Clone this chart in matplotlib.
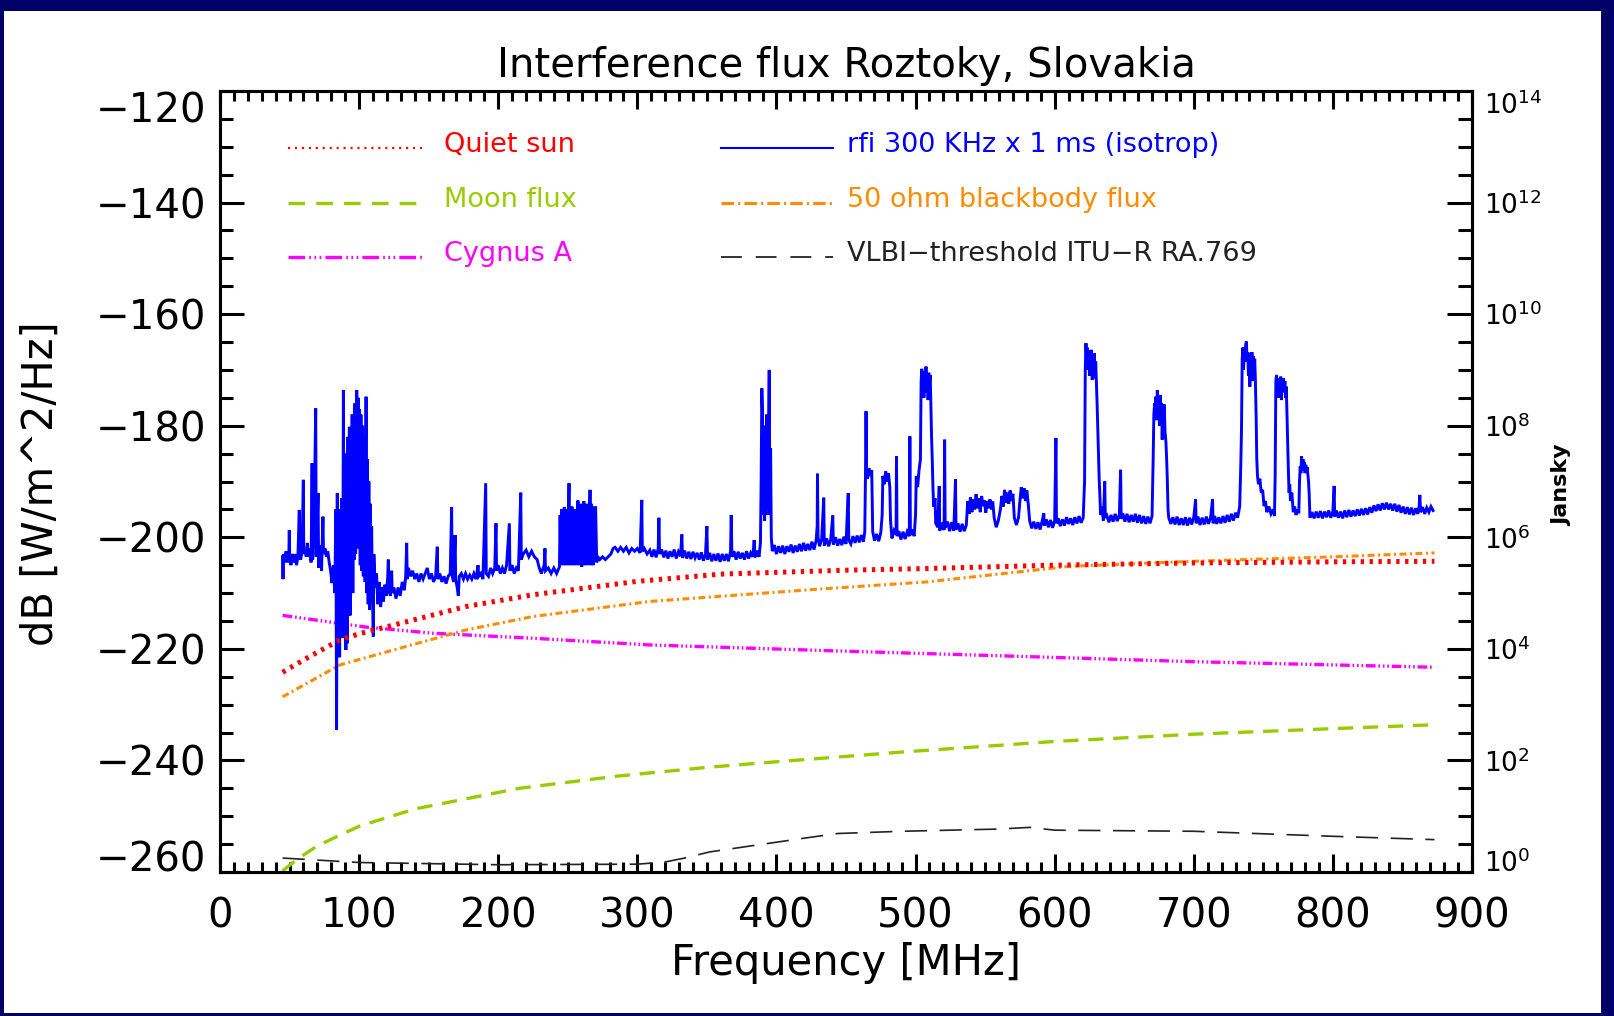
import numpy as np
import matplotlib.pyplot as plt
from matplotlib.ticker import FixedLocator, MultipleLocator
from matplotlib.patches import Rectangle

# ---- data (frequency in MHz, flux in dB W/m^2/Hz) ----
sun_f = [45, 60, 86, 100, 130, 177, 225, 300, 360, 450, 508, 600, 700, 800, 873]
sun_db = [-224.2, -222.0, -218.4, -217.3, -215.4, -212.4, -210.3, -207.9, -206.6,
          -205.9, -205.6, -205.0, -204.6, -204.4, -204.3]

moon_f = [45, 55, 70, 100, 140, 215, 286, 352, 397, 490, 600, 700, 800, 873]
moon_db = [-259.8, -257.8, -255.3, -251.8, -248.7, -245.0, -242.8, -241.2, -240.3,
           -238.5, -236.6, -235.3, -234.3, -233.6]

cyg_f = [45, 105, 153, 225, 309, 434, 582, 700, 873]
cyg_db = [-214.0, -216.1, -217.2, -218.1, -219.3, -220.3, -221.4, -222.3, -223.3]

bb_f = [45, 86, 129, 177, 225, 309, 430, 508, 611, 700, 800, 873]
bb_db = [-228.6, -222.9, -219.9, -216.6, -214.2, -211.5, -209.3, -208.0, -205.2,
         -204.3, -203.5, -202.8]

vlbi_f = [45, 100, 200, 300, 320, 334, 352, 385, 421, 444, 490, 560, 582, 600, 700, 800, 873]
vlbi_db = [-257.5, -258.3, -258.7, -258.6, -258.2, -257.5, -256.4, -255.2, -253.9, -253.1,
           -252.7, -252.3, -252.0, -252.5, -252.7, -253.6, -254.2]

# measured rfi spectrum (freq, dB)
rfi = [
    (45.0, -203.5), (45.3, -207.5), (45.6, -203.0), (46.5, -204.5), (47.5, -202.5), (48.5, -204.5),
    (49.5, -203.0), (49.8, -198.7), (50.1, -203.5), (51, -205), (52, -203), (53, -204.5), (54, -203),
    (55, -205), (56, -203.5), (57.0, -195.1), (57.3, -203), (58, -204), (59, -202.5), (59.9, -189.7),
    (60.2, -203), (61, -201.8), (62, -203.5), (62.8, -201), (63.5, -203.5), (64.5, -202),
    (65.5, -204.5), (66.2, -186.7), (66.6, -204), (67.5, -199.5), (68.8, -176.9), (69.2, -203.5),
    (70.5, -192.1), (70.9, -205.5), (72, -201.5), (73, -206), (74, -196.3), (74.4, -203),
    (75.5, -202), (76.5, -203.5), (77.5, -202.5), (78.5, -204.5), (79.5, -206), (80.5, -208.2),
    (81.5, -205), (82.5, -210), (83.3, -195), (83.8, -234.5), (84.3, -192.1), (85, -220),
    (85.5, -200), (86, -221.5), (86.5, -195), (87, -216), (87.5, -193), (88.2, -218), (88.7, -173.6),
    (89.2, -215), (89.8, -190), (90.5, -220.2), (91, -185), (91.5, -219), (92, -182), (92.5, -214),
    (93, -180.2), (93.5, -214), (94, -186), (94.5, -208), (95, -178), (95.5, -210), (96, -181),
    (96.5, -204), (97, -176), (97.5, -203), (98.3, -173.6), (98.8, -200), (99.3, -175), (99.8, -202),
    (100.3, -177), (100.8, -205), (101.3, -178), (102, -206), (102.5, -180), (103, -207),
    (103.8, -182), (104.3, -208), (105, -174.8), (105.5, -210), (106, -186), (106.5, -212),
    (107, -190), (107.5, -213), (108, -194), (108.5, -210), (109, -198), (109.6, -211),
    (110.2, -217.8), (110.6, -203), (111.5, -209), (112.5, -206.5), (113.5, -212), (114.5, -208),
    (115.5, -212.5), (116.5, -209), (117.5, -211.5), (118.5, -208.5), (119.5, -210.5),
    (120.5, -207.5), (121, -204.0), (121.4, -209.5), (122.5, -210.5), (123.4, -206), (123.8, -210),
    (125, -209), (126.5, -211), (128, -209), (129.5, -210.5), (131, -208), (132.5, -209.5),
    (133.5, -207), (134.2, -201), (134.6, -207.5), (135.5, -205.5), (137, -207), (138.5, -206),
    (140, -207.5), (141.5, -206.5), (143, -208), (144.5, -206.5), (146, -207.5), (147.5, -206.5),
    (149, -205.5), (150.5, -207.5), (152, -206.5), (153.5, -208), (155, -207), (156.2, -201.7),
    (156.6, -207.5), (158, -206.5), (159.5, -208), (161, -207), (162.5, -208.3), (164, -207),
    (165.5, -206.5), (166.5, -194.6), (166.9, -207), (168, -208), (169, -199.6), (169.4, -207.5),
    (170.5, -209), (171.3, -210.5), (172, -207), (173.5, -206.5), (175, -207.5), (176.5, -206.5),
    (178, -207.5), (179.5, -206.8), (181, -207.5), (182.5, -206.5), (184, -207.5), (185.5, -205),
    (186, -207), (187.5, -206.5), (189, -207.5), (191, -190.3), (191.4, -206.5), (193, -207),
    (194.5, -205.5), (196, -206.5), (197.5, -205.5), (198.4, -197.5), (198.8, -206), (200, -205),
    (201.5, -206.5), (203, -205.5), (204.5, -206.5), (206, -205), (208, -197.5), (208.4, -206),
    (210, -205), (211.5, -206.5), (213, -205.5), (214.5, -206), (216.2, -192), (216.6, -204),
    (218, -203), (220, -202.3), (222, -203.5), (224, -202.5), (226, -203.5), (228, -204),
    (229.5, -205.5), (231, -206.5), (233, -205), (233.6, -202), (234, -206), (236, -205.5),
    (238, -206.5), (240, -205.5), (242, -206.5), (244, -205.3), (244.5, -196), (245, -205),
    (245.5, -195), (246, -204.5), (246.5, -196), (247, -205), (247.5, -194.6), (248, -204),
    (248.5, -195), (249, -205), (249.5, -196), (250, -204), (250.9, -190.3), (251.3, -205),
    (252, -195), (252.5, -204.5), (253, -194.5), (253.5, -205), (254, -196), (254.5, -203.5),
    (255, -195), (255.5, -205), (256, -195.5), (256.5, -204), (257.3, -193.4), (257.8, -205),
    (258.5, -194.5), (259, -204.5), (259.5, -194), (260, -205.3), (260.5, -195), (261, -204),
    (261.5, -193.5), (262, -205), (262.5, -194), (263, -204), (263.5, -195), (264, -205),
    (264.5, -194), (265, -204.5), (266, -191.5), (266.5, -205), (267, -194), (267.5, -204),
    (268, -194.5), (268.5, -205), (269, -195), (269.5, -204), (270, -194.5), (270.8, -204.5),
    (271.5, -203.5), (273, -204), (275, -203.5), (277, -204), (279, -203.5), (281, -203),
    (282.6, -202), (284, -201.8), (286, -202.5), (288, -201.8), (290, -202.5), (292, -201.8),
    (294, -202.8), (296, -202), (298, -202.5), (300, -202), (302, -202.8), (303.2, -193.3),
    (303.6, -202.5), (305, -202), (307, -203), (309, -202.3), (310.5, -203.5), (312, -202.2),
    (313.5, -203.6), (315, -202.0), (315.5, -196.5), (316, -203), (317.5, -202.2), (319, -203.6),
    (320.5, -202.4), (322, -203.8), (323.5, -202.5), (325, -203.5), (326.5, -202.2), (328, -203.8),
    (329.5, -202.6), (331, -203.4), (332, -199.5), (332.5, -203.7), (334, -202.4), (335.5, -203.8),
    (337, -202.6), (338.5, -203.9), (340, -202.6), (341.5, -203.7), (343, -202.8), (344.5, -204),
    (346, -202.7), (347.5, -204.2), (349, -203), (350, -198), (350.5, -204), (352, -202.8),
    (353.5, -204.3), (355, -203), (356.5, -204.2), (358, -202.9), (359.5, -204.4), (361, -203),
    (362.5, -204.2), (364, -203), (365.5, -204.3), (367, -202.5), (367.5, -196), (368, -203.5),
    (369.5, -202.5), (371, -204), (372.5, -202.6), (374, -203.8), (375.5, -202.8), (377, -204),
    (378.5, -202.5), (380, -203.8), (381.5, -202.8), (383, -203.5), (384, -200.5), (384.5, -203.6),
    (386, -202.4), (387.5, -203.5), (388.5, -201), (389, -190), (389.5, -173.3), (390, -178),
    (390.5, -196), (391, -180), (391.5, -197), (392, -184), (392.5, -196), (393, -178),
    (393.5, -195), (394.3, -181), (394.8, -170), (395.3, -196), (395.8, -184), (396.3, -200),
    (397, -202.5), (398.5, -201.4), (400, -203), (401.5, -201.6), (403, -202.8), (404.5, -201.5),
    (406, -203), (407.5, -201.6), (409, -202.6), (410.5, -201.3), (412, -202.8), (413.5, -201.5),
    (415, -202.6), (416.5, -201.2), (418, -202.5), (419.5, -201.0), (421, -202.4), (422.5, -201.2),
    (424, -202.3), (425.5, -200.8), (427, -202.2), (428.5, -200.6), (429.3, -198), (429.5, -188.6),
    (429.9, -200), (431, -201.6), (432.5, -200.4), (434, -192.9), (434.4, -201.5), (436, -200.2),
    (437.5, -201.6), (439, -200.4), (440.5, -196.1), (440.9, -201.3), (442.5, -200), (444, -201.5),
    (445.5, -200.3), (447, -201.4), (448.5, -199.9), (450, -201.2), (451.6, -192.1), (452, -200.5),
    (453.5, -201.2), (455, -199.8), (456.5, -201), (458, -199.7), (459.5, -200.9), (461, -199.6),
    (462.5, -200.8), (463.5, -199), (464, -189), (464.4, -177.4), (464.8, -188), (465.5, -189.5),
    (466.5, -187.6), (467.5, -189), (468.5, -188), (469.2, -199), (470.5, -200.6), (472, -199.4),
    (473.5, -200.7), (475, -199.2), (476, -196), (476.5, -189), (477.5, -190.5), (478.5, -188.2),
    (479.5, -190), (480.5, -188.5), (481.5, -191), (482, -197), (483, -200.2), (484.5, -198.8),
    (486, -199.5), (486.3, -185.5), (486.7, -199.8), (488, -198.9), (489.5, -200.4), (491, -199),
    (492.5, -200.3), (494, -199), (495.5, -199.8), (495.9, -181.9), (496.3, -199.6), (497.5, -198.6),
    (499, -199.8), (500, -196), (500.5, -189), (501.5, -191), (502.5, -188), (503.5, -186),
    (504, -172), (504.5, -169.8), (505, -173.5), (505.5, -170.5), (506, -175), (506.5, -170.2),
    (507, -174), (507.5, -169.4), (508, -173), (508.5, -171), (509, -175.4), (509.5, -170.5),
    (510, -172.5), (510.5, -170.9), (511, -176), (511.5, -182), (512, -186), (512.5, -191),
    (513, -194.5), (514, -193), (514.5, -197.5), (516, -198.2), (517, -190.8), (517.4, -198.8),
    (519, -197.4), (520.5, -198.7), (520.9, -182.5), (521.3, -198.3), (523, -197.2), (524.5, -198.9),
    (526, -197.3), (527.5, -198.8), (528.7, -189.6), (529.1, -198.6), (530.5, -197.5), (532, -199),
    (533.5, -197.6), (535, -198.9), (536.5, -197.8), (537.5, -193.5), (538.5, -195.8), (539.5, -192.8),
    (540.5, -195.5), (541.5, -193.2), (542.5, -195), (543.5, -192.3), (544.5, -194.8), (545.5, -193),
    (546.5, -195.5), (547.5, -192.6), (548.5, -194.4), (549.5, -193.4), (550.5, -195.6), (551.5, -193.5),
    (552.5, -194.8), (553.5, -193.2), (554.5, -195), (555.5, -193.6), (556.5, -196.5), (558, -198.2),
    (559.5, -197), (561, -195), (562, -192.6), (563, -194.5), (564, -191.5), (565, -193.8),
    (566, -192), (567, -194), (568, -191.6), (569, -193.5), (570, -192.2), (571, -196.5),
    (572.5, -197.8), (574, -196.5), (575, -193.5), (576, -191), (577, -193), (578, -191.2),
    (579, -193.5), (580, -191.6), (581, -194), (582, -197), (583.5, -198.4), (585, -197.2),
    (586.5, -198.5), (588, -197.3), (589.5, -198.6), (591, -197.1), (592.2, -195.7), (592.6, -197.9),
    (594, -196.8), (595.5, -198.2), (597, -196.9), (598.5, -198.3), (600, -197), (600.9, -182.2),
    (601.3, -197.5), (602.5, -196.6), (604, -198), (605.5, -196.8), (607, -197.9), (608.5, -196.4),
    (610, -197.6), (611.5, -196.6), (613, -197.8), (614.5, -196.4), (616, -197.5), (617.5, -196.2),
    (619, -197.4), (620.5, -196.5), (621.5, -190), (622, -170), (622.5, -165.2), (623, -168.5),
    (623.5, -166), (624, -170), (624.5, -166.5), (625, -171), (625.5, -167), (626, -169.5),
    (626.5, -166.4), (627, -171.8), (627.5, -168), (628, -170), (628.5, -167), (629, -171.5),
    (629.5, -168.5), (630, -172), (630.5, -176), (631, -180.7), (631.5, -186), (632, -189.6),
    (632.5, -192.5), (633, -196), (634, -194.5), (635, -197), (636, -190), (636.4, -196.5),
    (637.5, -196.1), (639, -197.3), (640.5, -196), (642, -197.2), (643.5, -195.8), (645, -197.1),
    (646.5, -196), (647.4, -187.9), (647.8, -196.7), (649, -195.7), (650.5, -197.2), (652, -195.8),
    (653.5, -197.3), (655, -196), (656.5, -197.2), (658, -195.8), (659.5, -197.4), (661, -196),
    (662.5, -197.5), (664, -196.2), (665.5, -197.6), (667, -196.3), (668.5, -197.5), (670, -196.2),
    (670.8, -186), (671.3, -178), (671.8, -176), (672.3, -178.5), (672.8, -174.8), (673.3, -179),
    (673.8, -173.6), (674.3, -177.7), (674.8, -175), (675.3, -180), (675.8, -174.5), (676.3, -179),
    (676.8, -176), (677.3, -182.5), (677.8, -177.5), (678.3, -180.5), (678.8, -176.2), (679.3, -181),
    (680, -183), (680.5, -186), (681, -190), (681.5, -195), (682, -196.5), (683.5, -197.6),
    (685, -196.4), (686.5, -197.7), (688, -196.3), (689.5, -197.8), (691, -196.6), (692.5, -197.8),
    (694, -196.4), (695.5, -197.9), (697, -196.5), (698.5, -197.7), (700, -196.4), (701.3, -193.2),
    (701.7, -197.5), (703, -196.3), (704.5, -197.8), (706, -196.5), (707.5, -197.7), (709, -196.3),
    (710.5, -197.6), (712, -196.6), (713.5, -193.2), (713.9, -197.5), (715, -196.2), (716.5, -197.6),
    (718, -196.4), (719.5, -197.5), (721, -196.2), (722.5, -197.4), (724, -196), (725.5, -197.2),
    (727, -195.8), (728.5, -197), (730, -195.6), (731.5, -196.5), (733, -194.5), (733.8, -187),
    (734.3, -180.7), (734.8, -168), (735.3, -166), (735.8, -170), (736.3, -166), (736.8, -168.5),
    (737.3, -165.5), (737.8, -164.9), (738.3, -168.2), (738.8, -166.8), (739.3, -171), (739.8, -167.5),
    (740.3, -173), (740.8, -167), (741.3, -170), (741.8, -166.8), (742.3, -172), (742.8, -167.5),
    (743.3, -170.5), (743.8, -168), (744.3, -172), (744.8, -178), (745.3, -186), (745.8, -189),
    (746.5, -190.5), (747.5, -189.5), (748.5, -192), (749.5, -191.5), (750.5, -194.4), (751.5, -193.5),
    (752.5, -195.5), (754, -194.5), (755.5, -195.8), (757, -195), (758, -196.2), (758.5, -189),
    (759, -172), (759.5, -170.9), (760, -174), (760.5, -171.5), (761, -175), (761.5, -172),
    (762, -174.5), (762.5, -171.2), (763, -175.4), (763.5, -172.5), (764, -174), (764.5, -171.5),
    (765, -173.5), (765.5, -172), (766, -175), (766.5, -173), (767, -177.7), (767.5, -183),
    (768, -188), (768.5, -192), (769, -190.5), (769.5, -193.5), (770.5, -192), (771.5, -195.5),
    (772.5, -194.5), (773.5, -196), (774.5, -195), (775.5, -195.7), (776, -190), (776.5, -187.3),
    (777, -188.5), (777.5, -185.5), (778, -187.5), (778.5, -186), (779, -188), (779.5, -186.5),
    (780, -188.5), (780.5, -187), (781, -188.2), (781.5, -187.4), (782, -188.8), (782.5, -190),
    (783, -192.5), (783.5, -196.5), (785, -195.5), (786.5, -196.6), (788, -195.4), (789.5, -196.5),
    (791, -195.3), (792.5, -196.6), (794, -195.4), (795.5, -196.4), (797, -195.2), (798.5, -196.5),
    (800, -195.3), (800.9, -190.8), (801.3, -196.3), (802.5, -195.2), (804, -196.5), (805.5, -195.4),
    (807, -196.6), (808.5, -195.2), (810, -196.4), (811.5, -195.1), (813, -196.3), (814.5, -195.2),
    (816, -196.2), (817.5, -195.0), (819, -196.1), (820.5, -194.9), (822, -196.0), (823.5, -194.8),
    (825, -195.9), (826.5, -194.6), (828, -195.6), (829.5, -194.3), (831, -195.3), (832.5, -194.1),
    (834, -195.2), (835.5, -193.9), (837, -195), (838.5, -193.8), (840, -195), (841.5, -194),
    (843, -195.2), (844.5, -194), (846, -195.4), (847.5, -194.2), (849, -195.6), (850.5, -194.5),
    (852, -195.8), (853.5, -194.6), (855, -195.9), (856.5, -194.7), (858, -196), (859.5, -194.8),
    (861, -195.8), (862, -194.5), (862.5, -192.4), (863, -195.5), (864.5, -194.6), (866, -195.8),
    (867.5, -194.7), (869, -195.5), (870.5, -194.5), (872, -195.2),
]
rfi_f = [p[0] for p in rfi]
rfi_db = [p[1] for p in rfi]

yticks_db = [-260, -240, -220, -200, -180, -160, -140, -120]
xticks_mhz = [0, 100, 200, 300, 400, 500, 600, 700, 800, 900]
jy_exp = [0, 2, 4, 6, 8, 10, 12, 14]

plt.rcParams['font.family'] = ['DejaVu Sans']
plt.rcParams['lines.scale_dashes'] = False

navy = '#000066'
c_sun = '#ff0000'
c_moon = '#99cc00'
c_cyg = '#ff00ff'
c_rfi = '#0000ff'
c_bb = '#ff8c00'
c_vlbi = '#222222'

fig = plt.figure(figsize=(16.14, 10.16), dpi=100, facecolor=navy)
fig.patches.append(Rectangle((4 / 1614, 3 / 1016), 1597 / 1614, 1002 / 1016,
                             transform=fig.transFigure, facecolor='white',
                             edgecolor='none', zorder=-1))

ax = fig.add_axes([220 / 1614, 1 - 872 / 1016, 1252 / 1614, 781 / 1016])

ax.plot(vlbi_f, vlbi_db, color=c_vlbi, lw=1.2, dashes=(16, 9))
ax.plot(moon_f, moon_db, color=c_moon, lw=2.4, dashes=(11, 7))
ax.plot(cyg_f, cyg_db, color=c_cyg, lw=2.4, dashes=(7, 2, 1.2, 2, 1.2, 2, 1.2, 2))
ax.plot(bb_f, bb_db, color=c_bb, lw=2.2, dashes=(5, 2.5, 1.5, 2.5))
ax.plot(rfi_f, rfi_db, color=c_rfi, lw=2.1, solid_joinstyle='miter')
ax.plot(sun_f, sun_db, color=c_sun, lw=3.6, dashes=(2.4, 4))

ax.set_xlim(0, 900)
ax.set_ylim(-260, -120)

# legend drawn by hand, two columns
leg_left = [('Quiet sun', c_sun, (1.5, 3.5), 1.6),
            ('Moon flux', c_moon, (12, 8), 2.4),
            ('Cygnus A', c_cyg, (12, 3, 1.2, 2.5, 1.2, 2.5, 1.2, 3), 2.4)]
leg_right = [('rfi 300 KHz x 1 ms (isotrop)', c_rfi, None, 1.5),
             ('50 ohm blackbody flux', c_bb, (9, 3, 1.5, 3), 2.2),
             ('VLBI\u2212threshold ITU\u2212R RA.769', c_vlbi, (15, 10), 1.3)]
rows_y = [0.931, 0.861, 0.791]
for col, x0, x1, xt in [(leg_left, 0.054, 0.163, 0.1786), (leg_right, 0.400, 0.490, 0.5008)]:
    for (name, c, d, lw), yy in zip(col, rows_y):
        ln, = ax.plot([x0, x1], [yy - 0.004, yy - 0.004], color=c, lw=lw, transform=ax.transAxes)
        if d is not None:
            ln.set_dashes(d)
        ax.text(xt, yy, name, color=c, fontsize=19.5, transform=ax.transAxes,
                ha='left', va='center')

# axis styling, ticks inside like the original
for s in ax.spines.values():
    s.set_linewidth(2.2)
ax.xaxis.set_major_locator(FixedLocator(xticks_mhz))
ax.xaxis.set_minor_locator(MultipleLocator(10))
ax.yaxis.set_major_locator(FixedLocator(yticks_db))
ax.yaxis.set_minor_locator(MultipleLocator(5))
ax.tick_params(axis='x', which='both', direction='in', top=True, bottom=True, width=2.2)
ax.tick_params(axis='x', which='major', length=13, pad=18, labelsize=29)
ax.tick_params(axis='x', which='minor', length=7)
ax.tick_params(axis='y', which='both', direction='in', left=True, right=False, width=2.2)
ax.tick_params(axis='y', which='major', length=17, pad=10, labelsize=29)
ax.tick_params(axis='y', which='minor', length=9)

ax2 = ax.twinx()
ax2.set_ylim(0, 14)
ax2.yaxis.set_major_locator(FixedLocator(jy_exp))
ax2.yaxis.set_minor_locator(MultipleLocator(0.5))
ax2.set_yticklabels([r'$\mathregular{10^{%d}}$' % e for e in jy_exp])
ax2.tick_params(axis='y', which='both', direction='in', width=2.2)
ax2.tick_params(axis='y', which='major', length=18, pad=9, labelsize=19)
ax2.tick_params(axis='y', which='minor', length=10)
for s in ax2.spines.values():
    s.set_linewidth(2.2)

# end labels sit inside the axis range, as in the original
yt = ax.yaxis.get_major_ticks()
yt[0].label1.set_va('baseline')
yt[-1].label1.set_va('top')
jt = ax2.yaxis.get_major_ticks()
jt[0].label2.set_va('baseline')
jt[-1].label2.set_va('top')

fig.text(846 / 1614, 1 - 66 / 1016, 'Interference flux Roztoky, Slovakia',
         ha='center', va='center', fontsize=29)
fig.text(846 / 1614, 1 - 963 / 1016, 'Frequency [MHz]', ha='center', va='center', fontsize=30)
fig.text(41 / 1614, 1 - 484 / 1016, 'dB [W/m^2/Hz]', rotation=90,
         ha='center', va='center', fontsize=30)
fig.text(1562 / 1614, 1 - 485 / 1016, 'Jansky', rotation=90,
         ha='center', va='center', fontsize=16, fontweight='bold')

fig.savefig('out.png', dpi=100, facecolor=navy)
